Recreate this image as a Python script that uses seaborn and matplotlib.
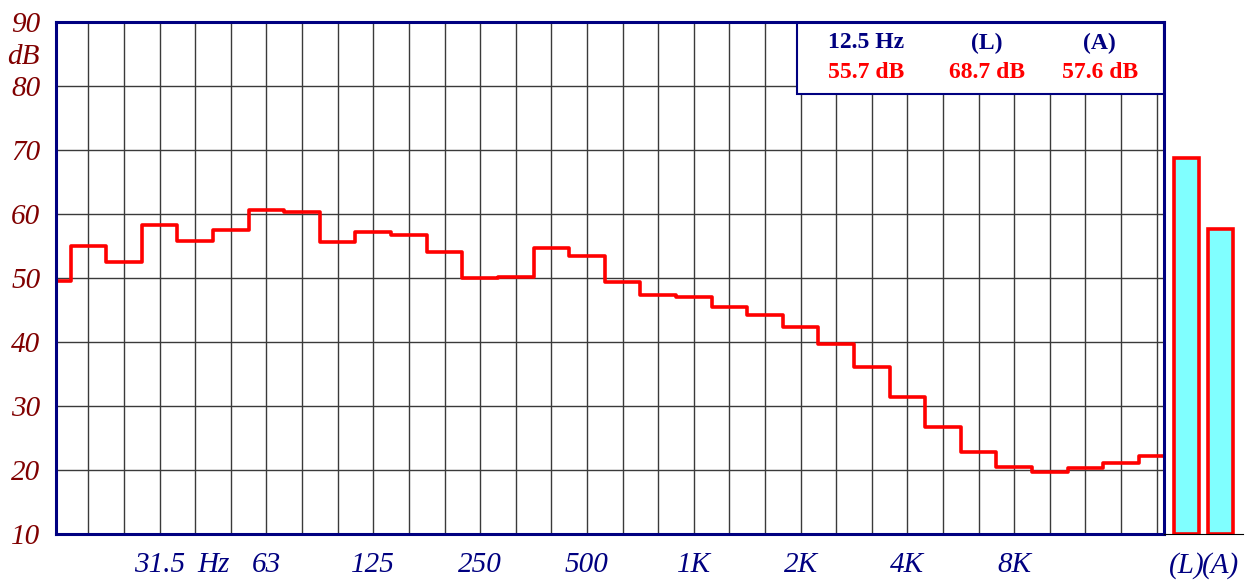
import numpy as np
import matplotlib
matplotlib.use('Agg')
import matplotlib.pyplot as plt
import seaborn as sns
from matplotlib.patches import Rectangle
from matplotlib.ticker import MultipleLocator

# Bandas de 1/3 de oitava (16 Hz .. 20 kHz) e niveis medidos (dB)
bandas = ['16', '20', '25', '31.5', '40', '50', '63', '80', '100', '125', '160',
          '200', '250', '315', '400', '500', '630', '800', '1K', '1.25K', '1.6K',
          '2K', '2.5K', '3.15K', '4K', '5K', '6.3K', '8K', '10K', '12.5K', '16K', '20K']
niveis = [49.5, 55.0, 52.5, 58.2, 55.8, 57.4, 60.6, 60.3, 55.6, 57.1, 56.7,
          54.0, 50.0, 50.1, 54.7, 53.4, 49.4, 47.3, 47.0, 45.5, 44.1,
          42.3, 39.6, 36.0, 31.3, 26.6, 22.7, 20.5, 19.6, 20.3, 21.0, 22.2]

# Niveis globais (L) e (A)
globais_nomes = ['(L)', '(A)']
globais_valores = [68.7, 57.6]

# Rotulos do eixo x (oitavas)
rotulos_x = ['31.5', '63', '125', '250', '500', '1K', '2K', '4K', '8K', '']

# Leitura do cursor (caixa superior)
cursor_titulos = ['12.5 Hz', '(L)', '(A)']
cursor_valores = ['55.7 dB', '68.7 dB', '57.6 dB']

AZUL = '#000080'
VERMELHO_ESC = '#800000'

sns.set_style('white')
plt.rcParams['font.family'] = ['Liberation Serif', 'DejaVu Serif']

fig = plt.figure(figsize=(12.46, 5.8), dpi=100)
ax = fig.add_axes([0.0453, 0.0798, 0.8889, 0.8828])
ax2 = fig.add_axes([0.9342, 0.0798, 0.0634, 0.8828])

# Curva em degraus: cada banda ocupa de i-0.5 a i+0.5
idx = np.arange(len(bandas))
xs = np.repeat(idx, 2) + np.tile([-0.5, 0.5], len(idx))
ys = np.repeat(niveis, 2)
sns.lineplot(x=xs, y=ys, estimator=None, sort=False, color='red', lw=2.6,
             ax=ax, zorder=3)

# Ticks e grade
oitavas = [3, 6, 9, 12, 15, 18, 21, 24, 27, 30]
ax.set_xticks(oitavas, rotulos_x, fontstyle='italic')
ax.set_xticks(idx, minor=True)
ax.set_yticks(range(10, 91, 10), [str(v) for v in range(10, 91, 10)], fontstyle='italic')
ax.yaxis.set_minor_locator(MultipleLocator(2))

ax.set_xlim(0.10, 31.21)
ax.set_ylim(10, 90)

ax.tick_params(axis='x', which='major', length=10.8, width=1, color='black',
               pad=2.5, labelsize=21, labelcolor=AZUL)
ax.tick_params(axis='x', which='minor', length=3.6, width=1, color='black')
ax.tick_params(axis='y', which='major', length=10, width=1, color='black',
               pad=1.5, labelsize=21, labelcolor=VERMELHO_ESC)
ax.tick_params(axis='y', which='minor', length=5, width=1, color='black')
ax.grid(True, which='both', axis='x', color='#3a3a3a', lw=1)
ax.grid(True, which='major', axis='y', color='#3a3a3a', lw=1)
ax.set_xlabel('')
ax.set_ylabel('')
for s in ax.spines.values():
    s.set_color(AZUL)
    s.set_linewidth(2.2)
    s.set_zorder(6)

ax.annotate('Hz', xy=(4.5, 0), xycoords=('data', 'axes fraction'),
            xytext=(0, -13.3), textcoords='offset points', ha='center', va='top',
            fontsize=21, fontstyle='italic', color=AZUL)
fig.text(40 / 1246, 1 - 57 / 580, 'dB', ha='right', va='center',
         fontsize=21, fontstyle='italic', color=VERMELHO_ESC)

# Caixa com leitura do cursor
ax.add_patch(Rectangle((0.6686, 0.8588), 0.3314, 0.1412, transform=ax.transAxes,
                       facecolor='white', edgecolor=AZUL, lw=1.5, zorder=4))
for xpos, tit, val in zip([0.731, 0.840, 0.942], cursor_titulos, cursor_valores):
    ax.text(xpos, 0.9584, tit, transform=ax.transAxes, ha='center', va='center',
            fontsize=17, fontweight='bold', color=AZUL, zorder=5)
    ax.text(xpos, 0.9016, val, transform=ax.transAxes, ha='center', va='center',
            fontsize=17, fontweight='bold', color='red', zorder=5)

# Barras dos niveis globais
sns.barplot(x=globais_nomes, y=globais_valores, color='#80FFFF', saturation=1,
            edgecolor='red', linewidth=2.6, width=0.71, ax=ax2)
for p in ax2.patches:
    p.set_height(p.get_y() + p.get_height() - 10)
    p.set_y(10)
ax2.set_ylim(10, 90)
ax2.set_xlim(-0.662, 1.662)
ax2.set_xlabel('')
ax2.set_ylabel('')
ax2.set_yticks([])
for lbl in ax2.get_xticklabels():
    lbl.set_fontstyle('italic')
ax2.tick_params(axis='x', length=0, pad=13.3, labelsize=21, labelcolor=AZUL)
for nome in ['left', 'right', 'top']:
    ax2.spines[nome].set_visible(False)
ax2.spines['bottom'].set_color('black')
ax2.spines['bottom'].set_linewidth(0.8)
ax2.patch.set_alpha(0)

fig.savefig('out.png', dpi=100)
